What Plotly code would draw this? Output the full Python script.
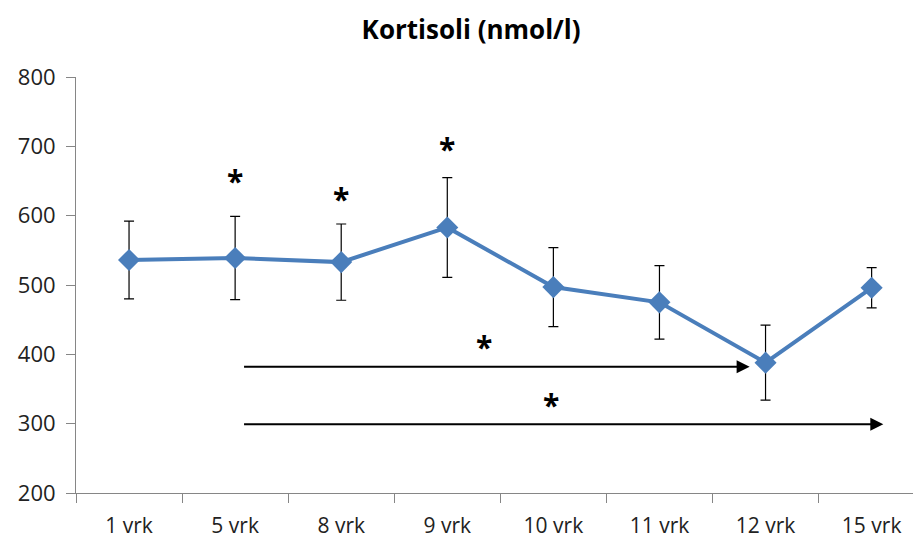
import plotly.graph_objects as go

categories = ["1 vrk", "5 vrk", "8 vrk", "9 vrk", "10 vrk", "11 vrk", "12 vrk", "15 vrk"]
means = [536, 539, 533, 583, 497, 475, 388, 496]
errors = [56, 60, 55, 72, 57, 53, 54, 29]

# significance asterisks: (x in category units, y value)
star_x = [1, 2, 3, 3.345, 3.977]
star_y = [654, 628, 700, 414, 330]

# arrows: start x, end x, y
arrow_x0 = [1.07, 1.07]
arrow_x1 = [5.85, 7.11]
arrow_y = [382, 299]

FONT = "Open Sans"

fig = go.Figure()
fig.add_trace(go.Scatter(
    x=categories, y=means,
    mode="lines+markers",
    line=dict(color="#4A7EBB", width=4),
    marker=dict(symbol="diamond", size=17, color="#4A7EBB"),
    error_y=dict(type="data", array=errors, visible=True, color="#000000",
                 thickness=1.2, width=5),
    showlegend=False,
))

annotations = []
for sx, sy in zip(star_x, star_y):
    annotations.append(dict(x=sx, y=sy, xref="x", yref="y", text="<b>*</b>", showarrow=False,
                            font=dict(family=FONT, size=30, color="#000000"),
                            yshift=-2))
for x0, x1, yy in zip(arrow_x0, arrow_x1, arrow_y):
    annotations.append(dict(x=x1, y=yy, ax=x0, ay=yy, xref="x", yref="y",
                            axref="x", ayref="y", text="", showarrow=True,
                            arrowhead=2, arrowsize=1.3, arrowwidth=2, arrowcolor="#000000"))

fig.update_layout(
    width=913, height=541,
    margin=dict(l=76, r=0, t=77, b=48),
    paper_bgcolor="white", plot_bgcolor="white",
    title=dict(text="<b>Kortisoli (nmol/l)</b>", x=0.516, xanchor="center",
               y=1 - 30 / 541, yanchor="middle", yref="container",
               font=dict(family=FONT, size=26, color="#000000")),
    annotations=annotations,
    font=dict(family=FONT, color="#222222"),
)
fig.update_xaxes(
    type="category", range=[-0.5, 7.39], tickson="boundaries",
    showgrid=False, zeroline=False,
    showline=True, linecolor="#868686", linewidth=1,
    ticks="outside", ticklen=9, tickcolor="#868686",
    tickfont=dict(family=FONT, size=21, color="#222222"),
    ticklabelstandoff=14,
)
fig.update_yaxes(
    range=[200, 800], dtick=100, showgrid=False, zeroline=False,
    showline=True, linecolor="#868686", linewidth=1,
    ticks="outside", ticklen=9, tickcolor="#868686",
    tickfont=dict(family=FONT, size=22, color="#222222"),
    ticklabelstandoff=6,
)

fig.write_html("out.html")
